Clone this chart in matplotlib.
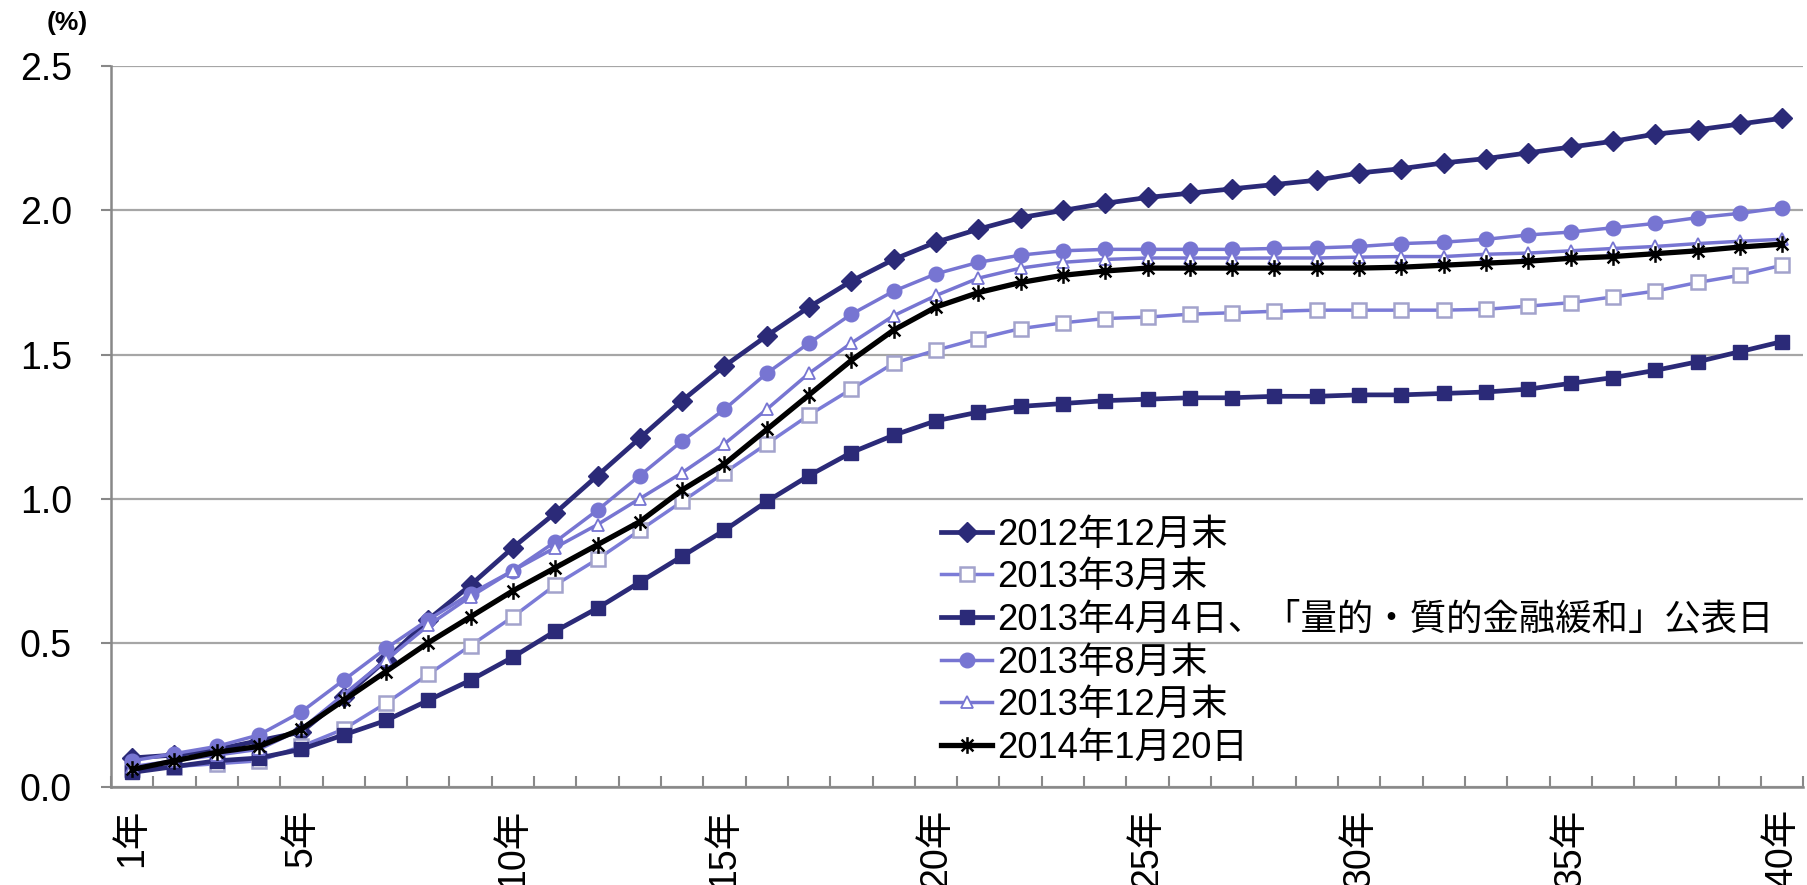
import numpy as np
import matplotlib.pyplot as plt
from matplotlib.path import Path

plt.rcParams['font.family'] = ['Liberation Sans', 'Noto Sans CJK JP', 'DejaVu Sans']

# maturities (years) and the labelled ones
years = list(range(1, 41))
tick_years = [1, 5, 10, 15, 20, 25, 30, 35, 40]
tick_labels = [f"{y}年" for y in tick_years]

# yield curves (%)
s2012_dec = [0.10, 0.11, 0.13, 0.16, 0.19, 0.31, 0.44, 0.58, 0.70, 0.83,
             0.95, 1.08, 1.21, 1.34, 1.46, 1.565, 1.665, 1.755, 1.83, 1.89,
             1.935, 1.975, 2.00, 2.025, 2.045, 2.06, 2.075, 2.09, 2.105, 2.13,
             2.145, 2.165, 2.18, 2.20, 2.22, 2.24, 2.265, 2.28, 2.30, 2.32]
s2013_mar = [0.06, 0.07, 0.08, 0.09, 0.14, 0.20, 0.29, 0.39, 0.49, 0.59,
             0.70, 0.79, 0.89, 0.99, 1.09, 1.19, 1.29, 1.38, 1.47, 1.515,
             1.555, 1.59, 1.61, 1.625, 1.63, 1.64, 1.645, 1.65, 1.654, 1.654,
             1.654, 1.654, 1.657, 1.668, 1.68, 1.70, 1.72, 1.75, 1.775, 1.81]
s2013_apr = [0.05, 0.07, 0.09, 0.10, 0.13, 0.18, 0.23, 0.30, 0.37, 0.45,
             0.54, 0.62, 0.71, 0.80, 0.89, 0.99, 1.08, 1.16, 1.22, 1.27,
             1.30, 1.32, 1.33, 1.34, 1.345, 1.35, 1.35, 1.355, 1.355, 1.36,
             1.36, 1.365, 1.37, 1.38, 1.40, 1.42, 1.445, 1.475, 1.51, 1.545]
s2013_aug = [0.09, 0.115, 0.14, 0.18, 0.26, 0.37, 0.48, 0.58, 0.67, 0.75,
             0.85, 0.96, 1.08, 1.20, 1.31, 1.435, 1.54, 1.64, 1.72, 1.78,
             1.82, 1.845, 1.86, 1.865, 1.865, 1.865, 1.865, 1.868, 1.87, 1.875,
             1.885, 1.89, 1.90, 1.915, 1.925, 1.94, 1.955, 1.975, 1.99, 2.01]
s2013_dec = [0.07, 0.09, 0.11, 0.13, 0.20, 0.32, 0.44, 0.56, 0.66, 0.75,
             0.83, 0.91, 1.00, 1.09, 1.19, 1.31, 1.435, 1.54, 1.635, 1.705,
             1.765, 1.80, 1.82, 1.83, 1.835, 1.835, 1.835, 1.835, 1.835, 1.838,
             1.84, 1.84, 1.848, 1.852, 1.86, 1.868, 1.875, 1.885, 1.893, 1.90]
s2014_jan = [0.06, 0.09, 0.12, 0.14, 0.20, 0.30, 0.40, 0.50, 0.59, 0.68,
             0.76, 0.84, 0.92, 1.03, 1.12, 1.24, 1.36, 1.48, 1.585, 1.665,
             1.715, 1.75, 1.775, 1.79, 1.80, 1.80, 1.80, 1.80, 1.80, 1.80,
             1.803, 1.81, 1.817, 1.824, 1.834, 1.84, 1.85, 1.86, 1.873, 1.883]

labels = ["2012年12月末", "2013年3月末",
          "2013年4月4日、「量的・質的金融緩和」公表日",
          "2013年8月末", "2013年12月末", "2014年1月20日"]

navy = "#2B2A78"
purple = "#7775D2"

# excel style asterisk: X plus a vertical bar
asterisk = Path([(0, -1), (0, 1), (-0.707, -0.707), (0.707, 0.707),
                 (-0.707, 0.707), (0.707, -0.707)],
                [Path.MOVETO, Path.LINETO] * 3)

fig = plt.figure(figsize=(18.07, 8.85), dpi=100)
ax = fig.add_axes([0.0614, 0.111, 0.9366, 0.814])

ax.plot(years, s2012_dec, color=navy, lw=3.4, marker="D", ms=10,
        mfc=navy, mec=navy, label=labels[0])
ax.plot(years, s2013_mar, color="#7B7BD7", lw=2.5, marker="s", ms=9.5,
        mfc="white", mec="#A3A3CC", mew=1.8, label=labels[1])
ax.plot(years, s2013_apr, color=navy, lw=3.4, marker="s", ms=10.5,
        mfc=navy, mec=navy, label=labels[2])
ax.plot(years, s2013_aug, color=purple, lw=2.5, marker="o", ms=10.5,
        mfc=purple, mec=purple, label=labels[3])
ax.plot(years, s2013_dec, color=purple, lw=2.5, marker="^", ms=8.5,
        mfc="white", mec=purple, mew=1.3, label=labels[4])
ax.plot(years, s2014_jan, color="black", lw=3.8, marker=asterisk, ms=12,
        mfc="black", mec="black", mew=1.8, label=labels[5])

ax.set_xlim(0.5, 40.5)
ax.set_ylim(0, 2.5)

ax.set_yticks(np.arange(0, 2.51, 0.5))
ax.set_yticklabels([f"{v:.1f}" for v in np.arange(0, 2.51, 0.5)])
ax.grid(axis="y", color="#A6A6A6", lw=1.6)
ax.set_axisbelow(True)

ax.set_xticks(tick_years)
ax.set_xticklabels(tick_labels, rotation=90)
ax.set_xticks(np.arange(0.5, 41, 1), minor=True)
ax.tick_params(axis="x", which="major", length=0, labelsize=27, pad=16)
ax.tick_params(axis="x", which="minor", direction="in", length=8,
               width=1.5, color="#888888")
ax.tick_params(axis="y", direction="out", length=7, width=1.5,
               color="#888888", labelsize=27, pad=21)

for side in ["top", "right"]:
    ax.spines[side].set_visible(False)
for side in ["left", "bottom"]:
    ax.spines[side].set_color("#888888")
    ax.spines[side].set_linewidth(1.8)

fig.text(0.037, 0.974, "(%)", fontsize=19, fontweight="bold",
         ha="center", va="center")

ax.legend(loc="center left", bbox_to_anchor=(0.521, 0.275),
          bbox_transform=fig.transFigure, frameon=False, fontsize=26.2,
          handlelength=1.4, handletextpad=0.12, labelspacing=0.21,
          borderpad=0, borderaxespad=0)

fig.savefig("out.png", dpi=100)
